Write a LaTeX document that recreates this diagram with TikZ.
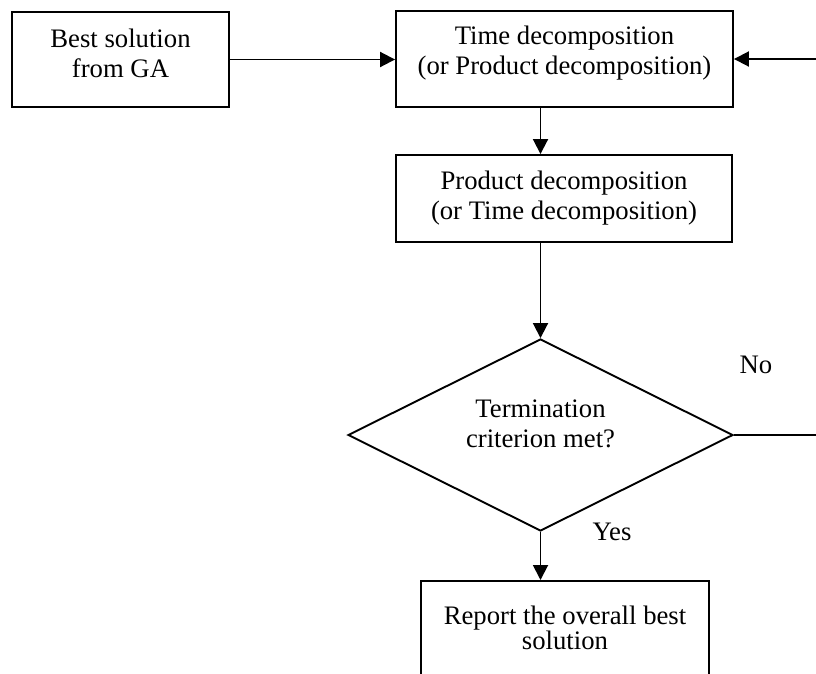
\documentclass[tikz,border=0pt]{standalone}
\usepackage{fontspec}
\setmainfont{Liberation Serif}
\usetikzlibrary{arrows.meta,shapes.geometric}
\begin{document}
\begin{tikzpicture}[x=1pt,y=-1pt,
  every node/.style={font=\fontsize{26.7}{30.5}\selectfont},
  box/.style={draw, line width=1.9pt, inner sep=0pt},
  decision/.style={draw, diamond, line width=1.9pt, inner sep=0pt,
    minimum width=385pt, minimum height=192pt},
  flow/.style={line width=1.9pt, -{Triangle[length=15pt,width=15pt]}},
  plain/.style={line width=1.9pt},
  tag/.style={inner sep=0pt, align=center}]
\useasboundingbox (0,0) rectangle (816,673);
\clip (0,0) rectangle (816,673);

% process boxes and their texts
\node[box, minimum width=217pt, minimum height=95pt] (ga) at (120.5,59.5) {};
\node[tag] (gatext) at (120.5,53.5) {Best solution\\from GA};
\node[box, minimum width=337pt, minimum height=96pt] (td) at (564.5,59) {};
\node[tag] (tdtext) at (564.5,53) {Time decomposition\\(or Product decomposition)};
\node[box, minimum width=336pt, minimum height=87pt] (pd) at (564,198.5) {};
\node[tag] (pdtext) at (564,198) {Product decomposition\\(or Time decomposition)};

% decision
\node[decision] (dia) at (540.5,435) {};
\node[tag] (dtext) at (540.5,424) {Termination\\criterion met?};

% final report box, running past the lower edge
\node[box, minimum width=288pt, minimum height=120pt, anchor=north] (rep) at (565,580) {};
\node[tag, font=\fontsize{26.7}{22.5}\selectfont] (reptext) at (565,628)
  {Report the overall best\\solution};

% loop ends beyond the right edge
\coordinate (loopin) at (830,59);
\coordinate (loopout) at (830,435);

% connectors
\draw[flow] (ga.east) -- (td.west |- ga.east);
\draw[flow] (loopin) -- (td.east |- loopin);
\draw[flow] (td.south -| dia.north) -- (pd.north -| dia.north);
\draw[flow] (pd.south -| dia.north) -- (dia.north);
\draw[plain] (dia.east) -- (loopout);
\draw[flow] (dia.south) -- (rep.north -| dia.south);

% branch labels
\node[tag] (no) at (756,365) {No};
\node[tag] (yes) at (612,532) {Yes};
\end{tikzpicture}
\end{document}
